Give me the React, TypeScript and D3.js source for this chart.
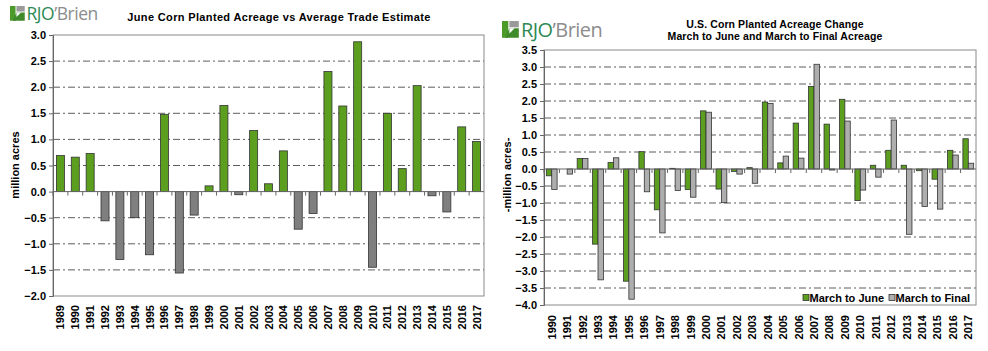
import React, { useRef, useEffect } from "react";
import * as d3 from "d3";

// Left chart: June planted vs average trade estimate (million acres)
const leftYears = d3.range(1989, 2018).map(String);
const leftValues = [
  0.69, 0.66, 0.73, -0.56, -1.3, -0.5, -1.21, 1.48, -1.56, -0.45, 0.11, 1.65, -0.06, 1.17,
  0.15, 0.78, -0.72, -0.42, 2.3, 1.64, 2.87, -1.45, 1.5, 0.44, 2.03, -0.08, -0.39, 1.24, 0.96,
];
const leftTicks = [-2, -1.5, -1, -0.5, 0, 0.5, 1, 1.5, 2, 2.5, 3];

// Right chart: March to June / March to Final changes
const rightYears = d3.range(1990, 2018).map(String);
const marchToJune = [
  -0.2, 0, 0.31, -2.21, 0.19, -3.3, 0.51, -1.2, 0.02, -0.6, 1.71, -0.59, -0.07, 0.04, 1.97,
  0.18, 1.35, 2.43, 1.32, 2.05, -0.93, 0.11, 0.55, 0.11, -0.05, -0.3, 0.55, 0.89,
];
const marchToFinal = [
  -0.6, -0.15, 0.31, -3.26, 0.33, -3.83, -0.67, -1.88, -0.63, -0.83, 1.67, -0.99, -0.15, -0.42,
  1.93, 0.38, 0.32, 3.08, -0.03, 1.41, -0.62, -0.24, 1.44, -1.92, -1.1, -1.18, 0.41, 0.17,
];
const rightTicks = [-4, -3.5, -3, -2.5, -2, -1.5, -1, -0.5, 0, 0.5, 1, 1.5, 2, 2.5, 3, 3.5];
const seriesNames = ["March to June", "March to Final"];

const GREEN = "#5c9f1f";
const DARK_GRAY = "#7f7f7f";
const LIGHT_GRAY = "#aeaeae";
const FONT = "'Liberation Sans', Arial, sans-serif";

function drawLogo(svg, x, y, s) {
  const g = svg.append("g").attr("transform", `translate(${x},${y}) scale(${s})`);
  g.append("rect").attr("x", 0).attr("y", 0).attr("width", 6).attr("height", 16).attr("fill", "#4c9a2a");
  g.append("rect").attr("x", 7).attr("y", 0).attr("width", 9).attr("height", 6).attr("fill", "#9a9a9a");
  g.append("path").attr("d", "M7,7 L16,7 L16,16 L3,16 Z").attr("fill", "#3f8a2a");
  g.append("path").attr("d", "M7,7 L12,7 L7,12 Z").attr("fill", "#ffffff");
  const t = g.append("text")
    .attr("x", 18)
    .attr("y", 15.5)
    .style("font-family", "'Open Sans', 'Liberation Sans', sans-serif")
    .style("font-size", "19px")
    .style("letter-spacing", "-0.5px");
  t.append("tspan").attr("fill", "#2e8a55").text("RJO");
  t.append("tspan").attr("fill", "#8c8c8c").text("\u2019Brien");
}

const Charts = () => {
  const svgRef = useRef(null);

  useEffect(() => {
    const svg = d3.select(svgRef.current);
    svg.selectAll("*").remove();

    // ---------- Left chart ----------
    const lm = { left: 53, right: 484, top: 35, bottom: 296 };
    const x = d3.scaleBand().domain(leftYears).range([lm.left, lm.right]).paddingInner(0.46).paddingOuter(0.23);
    const y = d3.scaleLinear().domain([-2, 3]).range([lm.bottom, lm.top]);

    drawLogo(svg, 10, 6, 0.92);

    svg.append("text")
      .attr("x", 279).attr("y", 21)
      .attr("text-anchor", "middle")
      .style("font-family", FONT).style("font-size", "11px").style("font-weight", "bold")
      .style("letter-spacing", "0.35px")
      .text("June Corn Planted Acreage vs Average Trade Estimate");

    // gridlines
    svg.append("g").selectAll("line")
      .data(leftTicks.filter((d) => d !== 0 && d > -2 && d < 3))
      .join("line")
      .attr("x1", lm.left).attr("x2", lm.right)
      .attr("y1", (d) => y(d)).attr("y2", (d) => y(d))
      .attr("stroke", "#333").attr("stroke-width", 0.8)
      .attr("stroke-dasharray", "7,3,2,3");

    // frame
    svg.append("rect")
      .attr("x", lm.left).attr("y", lm.top)
      .attr("width", lm.right - lm.left).attr("height", lm.bottom - lm.top)
      .attr("fill", "none").attr("stroke", "#8a8a8a");

    // bars
    svg.append("g").selectAll("rect")
      .data(leftValues)
      .join("rect")
      .attr("x", (d, i) => x(leftYears[i]))
      .attr("width", x.bandwidth())
      .attr("y", (d) => y(Math.max(0, d)))
      .attr("height", (d) => Math.abs(y(d) - y(0)))
      .attr("fill", (d) => (d >= 0 ? GREEN : DARK_GRAY))
      .attr("stroke", "#333").attr("stroke-width", 0.8);

    // y axis
    const yAxisL = d3.axisLeft(y).tickValues(leftTicks).tickFormat(d3.format(".1f")).tickSize(4);
    const gyl = svg.append("g").attr("transform", `translate(${lm.left},0)`).call(yAxisL);
    gyl.select(".domain").attr("stroke", "#666");
    gyl.selectAll("line").attr("stroke", "#666");
    gyl.selectAll("text").style("font-family", FONT).style("font-size", "11px").style("font-weight", "bold").attr("fill", "#000");

    // zero axis with ticks at band edges
    svg.append("line")
      .attr("x1", lm.left).attr("x2", lm.right)
      .attr("y1", y(0)).attr("y2", y(0))
      .attr("stroke", "#666");
    svg.append("g").selectAll("line")
      .data(leftYears)
      .join("line")
      .attr("x1", (d) => x(d) - x.step() * 0.23).attr("x2", (d) => x(d) - x.step() * 0.23)
      .attr("y1", y(0)).attr("y2", y(0) + 4)
      .attr("stroke", "#666");

    // x labels
    svg.append("g").selectAll("text")
      .data(leftYears)
      .join("text")
      .attr("transform", (d) => `translate(${x(d) + x.bandwidth() / 2 + 4},${lm.bottom + 9}) rotate(-90)`)
      .attr("text-anchor", "end")
      .style("font-family", FONT).style("font-size", "11px").style("font-weight", "bold")
      .text((d) => d);

    svg.append("text")
      .attr("transform", `translate(${19},${165}) rotate(-90)`)
      .attr("text-anchor", "middle")
      .style("font-family", FONT).style("font-size", "11px").style("font-weight", "bold")
      .text("million acres");

    // ---------- Right chart ----------
    const rm = { left: 544, right: 976, top: 50, bottom: 305 };
    const x0 = d3.scaleBand().domain(rightYears).range([rm.left, rm.right]).paddingInner(0.3).paddingOuter(0.15);
    const x1 = d3.scaleBand().domain(seriesNames).range([0, x0.bandwidth()]);
    const y2 = d3.scaleLinear().domain([-4, 3.5]).range([rm.bottom, rm.top]);

    drawLogo(svg, 502, 21, 1.05);

    svg.append("text")
      .attr("x", 775).attr("y", 28)
      .attr("text-anchor", "middle")
      .style("font-family", FONT).style("font-size", "10.5px").style("font-weight", "bold")
      .style("letter-spacing", "0.1px")
      .text("U.S. Corn Planted Acreage Change");
    svg.append("text")
      .attr("x", 775).attr("y", 40)
      .attr("text-anchor", "middle")
      .style("font-family", FONT).style("font-size", "10.5px").style("font-weight", "bold")
      .style("letter-spacing", "0.1px")
      .text("March to June and March to Final Acreage");

    svg.append("g").selectAll("line")
      .data(rightTicks.filter((d) => d !== 0 && d > -4 && d < 3.5))
      .join("line")
      .attr("x1", rm.left).attr("x2", rm.right)
      .attr("y1", (d) => y2(d)).attr("y2", (d) => y2(d))
      .attr("stroke", "#333").attr("stroke-width", 0.8)
      .attr("stroke-dasharray", "7,3,2,3");

    svg.append("rect")
      .attr("x", rm.left).attr("y", rm.top)
      .attr("width", rm.right - rm.left).attr("height", rm.bottom - rm.top)
      .attr("fill", "none").attr("stroke", "#8a8a8a");

    const groups = svg.append("g").selectAll("g")
      .data(rightYears)
      .join("g")
      .attr("transform", (d) => `translate(${x0(d)},0)`);
    groups.selectAll("rect")
      .data((d, i) => [
        { key: seriesNames[0], v: marchToJune[i] },
        { key: seriesNames[1], v: marchToFinal[i] },
      ])
      .join("rect")
      .attr("x", (d) => x1(d.key))
      .attr("width", x1.bandwidth())
      .attr("y", (d) => y2(Math.max(0, d.v)))
      .attr("height", (d) => Math.abs(y2(d.v) - y2(0)))
      .attr("fill", (d) => (d.key === seriesNames[0] ? GREEN : LIGHT_GRAY))
      .attr("stroke", "#333").attr("stroke-width", 0.8);

    const yAxisR = d3.axisLeft(y2).tickValues(rightTicks).tickFormat(d3.format(".1f")).tickSize(4);
    const gyr = svg.append("g").attr("transform", `translate(${rm.left},0)`).call(yAxisR);
    gyr.select(".domain").attr("stroke", "#666");
    gyr.selectAll("line").attr("stroke", "#666");
    gyr.selectAll("text").style("font-family", FONT).style("font-size", "11px").style("font-weight", "bold").attr("fill", "#000");

    svg.append("line")
      .attr("x1", rm.left).attr("x2", rm.right)
      .attr("y1", y2(0)).attr("y2", y2(0))
      .attr("stroke", "#666");
    svg.append("g").selectAll("line")
      .data(rightYears)
      .join("line")
      .attr("x1", (d) => x0(d) - x0.step() * 0.15).attr("x2", (d) => x0(d) - x0.step() * 0.15)
      .attr("y1", y2(0)).attr("y2", y2(0) + 4)
      .attr("stroke", "#666");

    svg.append("g").selectAll("text")
      .data(rightYears)
      .join("text")
      .attr("transform", (d) => `translate(${x0(d) + x0.bandwidth() / 2 + 4},${rm.bottom + 10}) rotate(-90)`)
      .attr("text-anchor", "end")
      .style("font-family", FONT).style("font-size", "11px").style("font-weight", "bold")
      .text((d) => d);

    svg.append("text")
      .attr("transform", `translate(${511},${175}) rotate(-90)`)
      .attr("text-anchor", "middle")
      .style("font-family", FONT).style("font-size", "11px").style("font-weight", "bold")
      .text("-million acres-");

    // legend
    const legend = svg.append("g").attr("transform", `translate(803,298)`);
    const items = [
      { name: seriesNames[0], color: GREEN, dx: 0 },
      { name: seriesNames[1], color: LIGHT_GRAY, dx: 86 },
    ];
    items.forEach((it) => {
      legend.append("rect")
        .attr("x", it.dx).attr("y", -3.5).attr("width", 6).attr("height", 6)
        .attr("fill", it.color).attr("stroke", "#333").attr("stroke-width", 0.8);
      legend.append("text")
        .attr("x", it.dx + 6.5).attr("y", 4)
        .style("font-family", FONT).style("font-size", "11px").style("font-weight", "bold")
        .text(it.name);
    });
  }, []);

  return <svg ref={svgRef} width={988} height={351} style={{ display: "block" }}></svg>;
};

export default function App() {
  return (
    <div style={{ position: "fixed", left: 0, top: 0, background: "#fff" }}>
      <Charts />
    </div>
  );
}
